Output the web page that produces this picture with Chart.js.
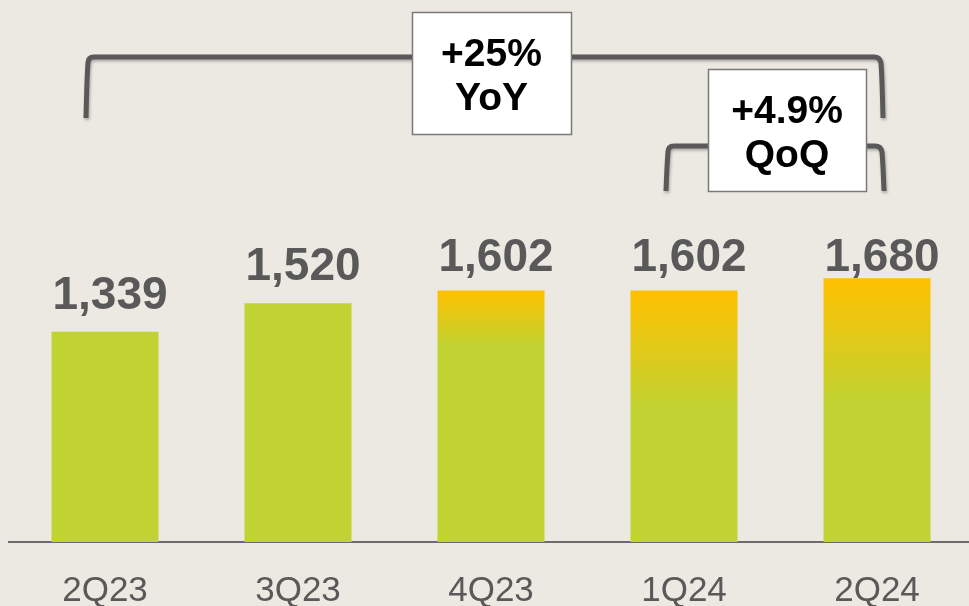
<!DOCTYPE html>
<html>
<head>
<meta charset="utf-8">
<script src="https://cdn.jsdelivr.net/npm/chart.js@4/dist/chart.umd.min.js"></script>
<style>
  html, body { margin: 0; padding: 0; background: #ECE9E2; overflow: hidden; width: 969px; height: 606px; }
  #wrap { position: absolute; left: 0; top: 0; width: 975px; height: 640px; }
</style>
</head>
<body>
<div id="wrap"><canvas id="c" width="975" height="640"></canvas></div>
<script>
const categories = ['2Q23', '3Q23', '4Q23', '1Q24', '2Q24'];
const revenue = [1339, 1520, 1602, 1602, 1680];
const yoyText = ['+25%', 'YoY'];
const qoqText = ['+4.9%', 'QoQ'];

const GREEN = '#C0D332';
const ORANGE = '#FFC000';
const TEXT_GRAY = '#595959';
const gradientSpanPx = [0, 0, 56, 120, 125];

function barColor(ctx) {
  const chart = ctx.chart;
  const i = ctx.dataIndex;
  const span = gradientSpanPx[i];
  if (!chart.chartArea || !span) return GREEN;
  const top = chart.scales.y.getPixelForValue(revenue[i]);
  const g = chart.ctx.createLinearGradient(0, top, 0, top + span);
  g.addColorStop(0, ORANGE);
  g.addColorStop(1, GREEN);
  return g;
}

const valueLabels = {
  id: 'valueLabels',
  afterDatasetsDraw(chart) {
    const ctx = chart.ctx;
    const meta = chart.getDatasetMeta(0);
    ctx.save();
    ctx.font = 'bold 46px "Liberation Sans", Arial, sans-serif';
    ctx.fillStyle = TEXT_GRAY;
    ctx.textAlign = 'center';
    ctx.textBaseline = 'alphabetic';
    meta.data.forEach((bar, i) => {
      const y = Math.max(bar.y - 23, 271);
      ctx.fillText(revenue[i].toLocaleString('en-US'), bar.x + 5, y);
    });
    ctx.restore();
  }
};

function drawBracket(ctx, xl, xr, yTop, yBot) {
  ctx.save();
  ctx.strokeStyle = '#595959';
  ctx.lineWidth = 5;
  ctx.lineJoin = 'round';
  ctx.shadowColor = 'rgba(0,0,0,0.28)';
  ctx.shadowBlur = 3;
  ctx.shadowOffsetX = 1;
  ctx.shadowOffsetY = 2;
  ctx.beginPath();
  ctx.moveTo(xl - 2, yBot);
  ctx.quadraticCurveTo(xl - 1, yTop + 18, xl, yTop + 6);
  ctx.quadraticCurveTo(xl, yTop, xl + 6, yTop);
  ctx.lineTo(xr - 6, yTop);
  ctx.quadraticCurveTo(xr, yTop, xr + 1, yTop + 6);
  ctx.quadraticCurveTo(xr + 2, yTop + 18, xr + 3, yBot);
  ctx.stroke();
  ctx.restore();
}

function drawBox(ctx, cx, top, w, h, lines) {
  ctx.save();
  const left = Math.round(cx - w / 2) + 0.5;
  ctx.fillStyle = '#FFFFFF';
  ctx.fillRect(left, top + 0.5, w, h);
  ctx.strokeStyle = '#7A7A7A';
  ctx.lineWidth = 1.5;
  ctx.strokeRect(left, top + 0.5, w, h);
  ctx.fillStyle = '#000000';
  ctx.font = 'bold 39px "Liberation Sans", Arial, sans-serif';
  ctx.textAlign = 'center';
  ctx.textBaseline = 'alphabetic';
  const mid = top + h / 2;
  ctx.fillText(lines[0], cx, mid - 7);
  ctx.fillText(lines[1], cx, mid + 37);
  ctx.restore();
}

const annotations = {
  id: 'annotations',
  afterDraw(chart) {
    const ctx = chart.ctx;
    const x = chart.scales.x;
    const x0 = x.getPixelForValue(0);
    const x2 = x.getPixelForValue(2);
    const x3 = x.getPixelForValue(3);
    const x4 = x.getPixelForValue(4);
    drawBracket(ctx, x0 - 17, x4 + 3, 57, 118);
    drawBox(ctx, x2 + 0.5, 12, 159, 122, yoyText);
    drawBracket(ctx, x3 - 16, x4 + 4, 146, 191);
    drawBox(ctx, (x3 + x4) / 2 + 6.5, 69, 158, 122, qoqText);
  }
};

new Chart(document.getElementById('c'), {
  type: 'bar',
  data: {
    labels: categories,
    datasets: [{
      data: revenue,
      backgroundColor: barColor,
      borderWidth: 0,
      categoryPercentage: 1,
      barPercentage: 107 / 193
    }]
  },
  options: {
    responsive: false,
    devicePixelRatio: 1,
    animation: false,
    layout: { padding: { left: 8.5, right: 1.5, top: 0, bottom: 0 } },
    plugins: { legend: { display: false }, tooltip: { enabled: false } },
    scales: {
      y: { display: false, min: 0, max: 3452 },
      x: {
        grid: { display: false, drawTicks: false },
        border: { display: true, color: '#6B6B6B', width: 2 },
        ticks: {
          color: TEXT_GRAY,
          padding: 28,
          font: { family: '"Liberation Sans", Arial, sans-serif', size: 35, lineHeight: 1.2 }
        }
      }
    }
  },
  plugins: [valueLabels, annotations]
});
</script>
</body>
</html>
